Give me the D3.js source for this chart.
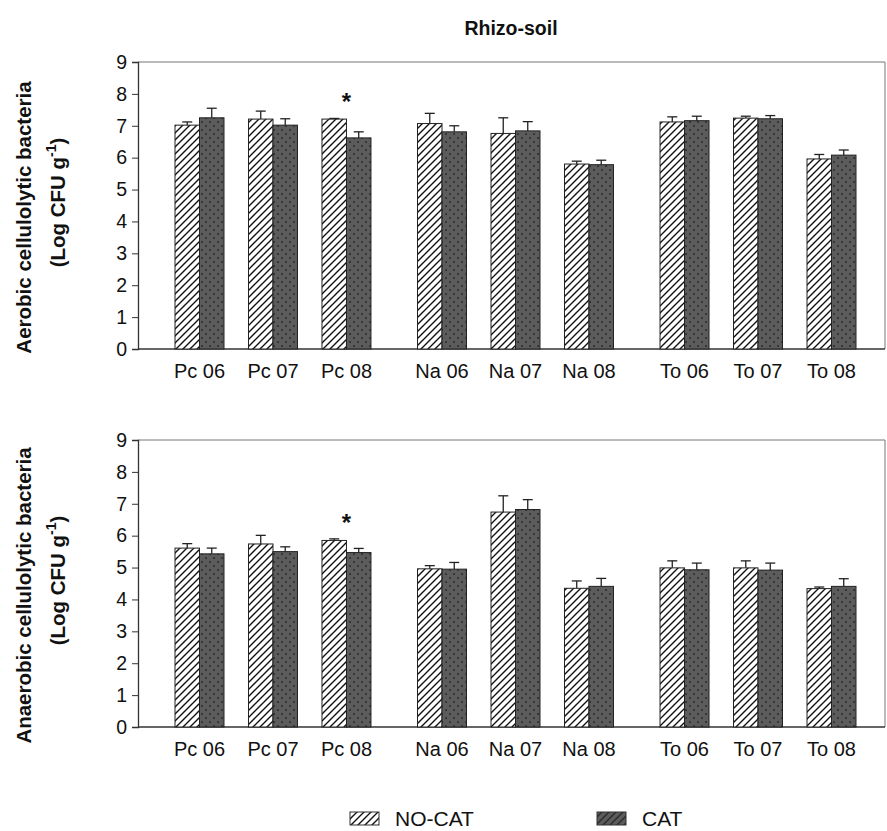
<!DOCTYPE html>
<html lang="en">
<head>
    <meta charset="UTF-8">
    <title>Rhizo-soil</title>
    <script src="https://d3js.org/d3.v7.min.js"></script>
    <style>
        body {
            margin: 0;
            background-color: #fff;
        }

        #canvas text {
            font-family: "Liberation Sans", Arial, sans-serif;
            fill: #111;
        }
    </style>
</head>
<body>
<svg id="canvas" width="887" height="831">
    <defs>
        <pattern id="hatch" patternUnits="userSpaceOnUse" width="7" height="7">
            <rect width="7" height="7" fill="#fff"/>
            <path d="M0,7 L7,0 M-1,1 L1,-1 M6,8 L8,6" stroke="#111" stroke-width="1.4"/>
        </pattern>
        <pattern id="dots" patternUnits="userSpaceOnUse" width="8" height="8">
            <rect width="8" height="8" fill="#5c5c5c"/>
            <rect x="1.3" y="1.3" width="1.5" height="1.5" fill="#1a1a1a"/>
            <rect x="5.3" y="5.3" width="1.5" height="1.5" fill="#1a1a1a"/>
        </pattern>
        <pattern id="darkHatch" patternUnits="userSpaceOnUse" width="7" height="7">
            <rect width="7" height="7" fill="#5c5c5c"/>
            <path d="M0,7 L7,0 M-1,1 L1,-1 M6,8 L8,6" stroke="#2a2a2a" stroke-width="1.4"/>
        </pattern>
    </defs>
</svg>
<script>
    // values
    let categories = ["Pc 06", "Pc 07", "Pc 08", "Na 06", "Na 07", "Na 08", "To 06", "To 07", "To 08"];

    let aerobicNoCat = [7.02, 7.21, 7.21, 7.07, 6.76, 5.80, 7.12, 7.24, 5.96];
    let aerobicNoCatErr = [0.10, 0.25, 0.02, 0.32, 0.49, 0.09, 0.16, 0.06, 0.14];
    let aerobicCat = [7.25, 7.02, 6.62, 6.81, 6.84, 5.78, 7.16, 7.22, 6.08];
    let aerobicCatErr = [0.30, 0.20, 0.19, 0.19, 0.29, 0.14, 0.14, 0.10, 0.16];

    let anaerobicNoCat = [5.61, 5.74, 5.85, 4.96, 6.74, 4.35, 4.99, 4.99, 4.34];
    let anaerobicNoCatErr = [0.14, 0.27, 0.05, 0.10, 0.51, 0.23, 0.22, 0.22, 0.05];
    let anaerobicCat = [5.43, 5.50, 5.47, 4.95, 6.82, 4.41, 4.93, 4.92, 4.41];
    let anaerobicCatErr = [0.18, 0.15, 0.13, 0.21, 0.31, 0.25, 0.21, 0.22, 0.24];

    let significant = ["Pc 08"];
    let yTicks = [0, 1, 2, 3, 4, 5, 6, 7, 8, 9];
    let seriesNames = ["NO-CAT", "CAT"];

    let svg = d3.select("#canvas");

    let plotLeft = 138, plotRight = 885;

    // groups of three sites, with a little extra room between sites
    function slot(i) {
        return i + Math.floor(i / 3) * 0.3;
    }
    let x = d3.scaleLinear().domain([0, slot(8)]).range([175, 807]);
    let bw = (x(1) - x(0)) / 3;

    svg.append("text")
        .attr("x", 511).attr("y", 35)
        .attr("text-anchor", "middle")
        .style("font-size", "19.5px").style("font-weight", "bold")
        .text("Rhizo-soil");

    function drawPanel(top, bottom, noCat, noCatErr, cat, catErr, title) {
        let y = d3.scaleLinear().domain([0, 9]).range([bottom, top]);
        let g = svg.append("g");

        // frame
        g.append("path")
            .attr("d", "M" + plotLeft + "," + top + "H" + plotRight + "V" + bottom)
            .attr("fill", "none").attr("stroke", "#777").attr("stroke-width", 1);

        let axis = g.append("g")
            .attr("transform", "translate(" + plotLeft + ",0)")
            .call(d3.axisLeft(y).tickValues(yTicks).tickSizeOuter(0).tickSize(6).tickPadding(5));
        axis.select(".domain").attr("stroke", "#333").attr("stroke-width", 1.3);
        axis.selectAll(".tick line").attr("stroke", "#333");
        axis.selectAll(".tick text")
            .attr("fill", "#111")
            .style("font-size", "19.5px")
            .style("font-family", "'Liberation Sans', Arial, sans-serif");

        g.append("line")
            .attr("x1", plotLeft).attr("x2", plotRight)
            .attr("y1", y(0)).attr("y2", y(0))
            .attr("stroke", "#333").attr("stroke-width", 1.3);

        let series = [
            {values: noCat, errors: noCatErr, fill: "url(#hatch)", offset: 0},
            {values: cat, errors: catErr, fill: "url(#dots)", offset: 1}
        ];

        series.forEach(function (s) {
            g.selectAll(null)
                .data(categories)
                .enter().append("rect")
                .attr("x", function (d, i) { return x(slot(i)) + s.offset * bw; })
                .attr("y", function (d, i) { return y(s.values[i]); })
                .attr("width", bw)
                .attr("height", function (d, i) { return y(0) - y(s.values[i]); })
                .attr("fill", s.fill)
                .attr("stroke", "#222").attr("stroke-width", 1);

            let err = g.selectAll(null)
                .data(categories)
                .enter().append("g")
                .attr("stroke", "#222").attr("stroke-width", 1.3);
            err.append("line")
                .attr("x1", function (d, i) { return x(slot(i)) + (s.offset + 0.5) * bw; })
                .attr("x2", function (d, i) { return x(slot(i)) + (s.offset + 0.5) * bw; })
                .attr("y1", function (d, i) { return y(s.values[i]); })
                .attr("y2", function (d, i) { return y(s.values[i] + s.errors[i]); });
            err.append("line")
                .attr("x1", function (d, i) { return x(slot(i)) + (s.offset + 0.5) * bw - 5; })
                .attr("x2", function (d, i) { return x(slot(i)) + (s.offset + 0.5) * bw + 5; })
                .attr("y1", function (d, i) { return y(s.values[i] + s.errors[i]); })
                .attr("y2", function (d, i) { return y(s.values[i] + s.errors[i]); });
        });

        // significance marks
        categories.forEach(function (c, i) {
            if (significant.indexOf(c) < 0) return;
            let highest = Math.max(noCat[i] + noCatErr[i], cat[i] + catErr[i]);
            g.append("text")
                .attr("x", x(slot(i)) + bw)
                .attr("y", y(highest) - 8)
                .attr("text-anchor", "middle")
                .style("font-size", "24px").style("font-weight", "bold")
                .text("*");
        });

        g.selectAll(null)
            .data(categories)
            .enter().append("text")
            .attr("x", function (d, i) { return x(slot(i)) + bw; })
            .attr("y", y(0) + 29)
            .attr("text-anchor", "middle")
            .style("font-size", "20px")
            .text(function (d) { return d; });

        let mid = (top + bottom) / 2;
        g.append("text")
            .attr("transform", "translate(31," + (mid + 12) + ") rotate(-90)")
            .attr("text-anchor", "middle")
            .style("font-size", "20.5px").style("font-weight", "bold")
            .text(title);
        let unit = g.append("text")
            .attr("transform", "translate(65," + (mid - 3) + ") rotate(-90)")
            .attr("text-anchor", "middle")
            .style("font-size", "20.5px").style("font-weight", "bold");
        unit.append("tspan").text("(Log CFU g");
        unit.append("tspan").attr("dy", -9).style("font-size", "14px").text("-1");
        unit.append("tspan").attr("dy", 9).text(")");
    }

    drawPanel(62, 349, aerobicNoCat, aerobicNoCatErr, aerobicCat, aerobicCatErr, "Aerobic cellulolytic bacteria");
    drawPanel(440, 727, anaerobicNoCat, anaerobicNoCatErr, anaerobicCat, anaerobicCatErr, "Anaerobic cellulolytic bacteria");

    // legend
    let legend = svg.append("g");
    let legendX = [350, 597];
    let legendFill = ["url(#hatch)", "url(#darkHatch)"];
    seriesNames.forEach(function (name, i) {
        legend.append("rect")
            .attr("x", legendX[i]).attr("y", 812)
            .attr("width", 29).attr("height", 13)
            .attr("fill", legendFill[i])
            .attr("stroke", "#333").attr("stroke-width", 1);
        legend.append("text")
            .attr("x", legendX[i] + 45).attr("y", 826)
            .style("font-size", "21px")
            .text(name);
    });
</script>
</body>
</html>
